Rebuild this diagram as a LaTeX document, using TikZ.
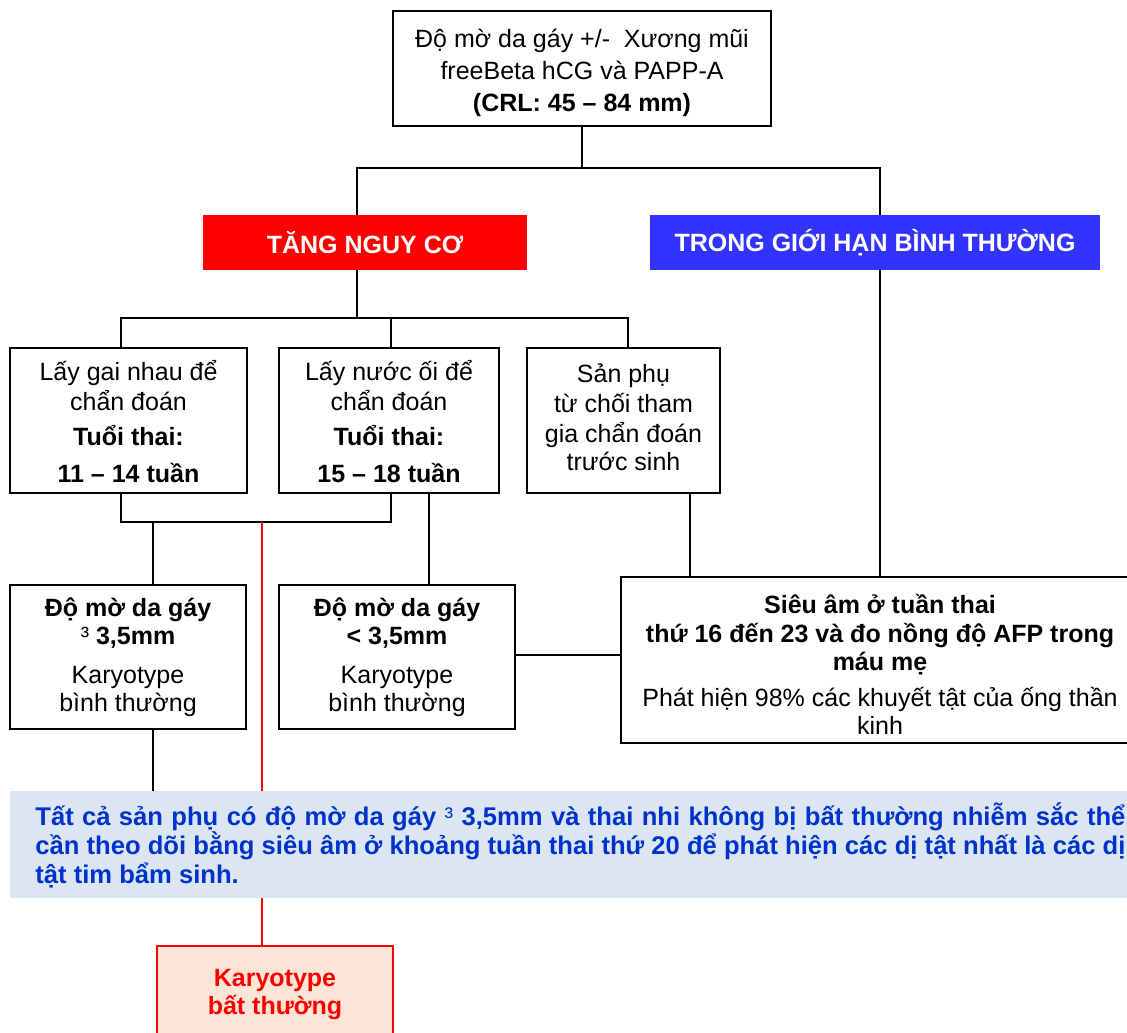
\documentclass[tikz,border=0pt]{standalone}
\usepackage{fontspec}
\setmainfont{Liberation Sans}
\usepackage{tikz}
\usetikzlibrary{positioning}
\definecolor{ntred}{HTML}{FF0000}
\definecolor{ntblue}{HTML}{3333FF}
\definecolor{ntbar}{HTML}{DCE6F2}
\definecolor{ntbartext}{HTML}{0033CC}
\definecolor{ntpeach}{HTML}{FDE6D8}

\begin{document}
\begin{tikzpicture}[
  x=0.5pt,y=-0.5pt,
  font=\fontsize{12.5}{14}\selectfont,
  box/.style={draw=black,line width=1pt,fill=white,align=center,inner sep=2pt},
  head/.style={minimum height=27.5pt,inner sep=0pt,text=white,
               font=\fontsize{12.5}{14}\selectfont\bfseries},
  bar/.style={fill=ntbar,text=ntbartext,align=justify,text width=545pt,
              inner xsep=12.5pt,inner ysep=0pt,minimum height=53.5pt,
              font=\fontsize{12.8}{14.5}\selectfont\bfseries},
  alert/.style={draw=ntred,line width=1pt,fill=ntpeach,text=ntred,align=center,
                font=\fontsize{12.5}{14}\selectfont\bfseries},
  wire/.style={draw=black,line width=0.9pt},
  redwire/.style={draw=ntred,line width=0.8pt},
]
\useasboundingbox (0,0) rectangle (1127,1032);
\clip (0,0) rectangle (1127,1032);

\node[box,minimum width=189pt,minimum height=57.5pt] (top) at (582,68.5)
  {\rule{0pt}{13.5pt}Độ mờ da gáy +/-\ \ Xương mũi\\[2pt] freeBeta hCG và PAPP-A\\[2pt] \textbf{(CRL: 45 – 84 mm)}};

\node[head,fill=ntred,minimum width=162pt] (risk) at (365,242.5) {TĂNG NGUY CƠ};
\node[head,fill=ntblue,minimum width=225pt] (normal) at (875,242.5) {TRONG GIỚI HẠN BÌNH THƯỜNG};

\node[box,minimum width=118.5pt,minimum height=72.5pt] (cvs) at (128.5,420.5)
  {\rule{0pt}{11pt}Lấy gai nhau để\\[1pt] chẩn đoán\\[3.5pt] \textbf{Tuổi thai:}\\[4.5pt] \textbf{11 – 14 tuần}};
\node[box,minimum width=110pt,minimum height=72.5pt] (amnio) at (389,420.5)
  {\rule{0pt}{11pt}Lấy nước ối để\\[1pt] chẩn đoán\\[3.5pt] \textbf{Tuổi thai:}\\[4.5pt] \textbf{15 – 18 tuần}};
\node[box,minimum width=96.5pt,minimum height=72.5pt] (refuse) at (623.5,420.5)
  {Sản phụ\\[1pt] từ chối tham\\[1pt] gia chẩn đoán\\[0pt] trước sinh\rule[-3.5pt]{0pt}{1pt}};

\node[box,minimum width=118pt,minimum height=72pt] (ntHigh) at (128,657)
  {\textbf{Độ mờ da gáy}\\ \textbf{{\mdseries ³} 3,5mm}\\[5.5pt] Karyotype\\ bình thường};
\node[box,minimum width=118pt,minimum height=72pt] (ntLow) at (397,657)
  {\textbf{Độ mờ da gáy}\\ \textbf{< 3,5mm}\\[5.5pt] Karyotype\\ bình thường};
\node[box,minimum width=259pt,minimum height=83pt] (afp) at (880,660)
  {\rule{0pt}{13.5pt}\textbf{Siêu âm ở tuần thai}\\[0.5pt] \textbf{thứ 16 đến 23 và đo nồng độ AFP trong}\\ \textbf{máu mẹ}\\[4pt]
   Phát hiện 98\% các khuyết tật của ống thần\\ kinh};

\node[alert,anchor=north west,minimum width=118pt,minimum height=46pt] (abn) at (156,945)
  {\rule{0pt}{11pt}Karyotype\\ bất thường};

% junctions
\coordinate (jRisk) at (357,168);
\coordinate (jNorm) at (880,168);
\coordinate (jTest) at (357,318);
\coordinate (jA) at (121,318);
\coordinate (jB) at (391,318);
\coordinate (jC) at (628,318);
\coordinate (kA) at (121,522);
\coordinate (kB) at (391,522);
\coordinate (kD) at (153,522);
\coordinate (kR) at (262,522);
\coordinate (kE) at (429,522);
\coordinate (kF) at (690,522);

\draw[wire] (top.south) -- (top.south |- jRisk);
\draw[wire] (risk.north -| jRisk) -- (jRisk) -- (jNorm) -- (normal.north -| jNorm);
\draw[wire] (normal.south -| afp.north) -- (afp.north);
\draw[wire] (risk.south -| jTest) -- (jTest);
\draw[wire] (cvs.north -| jA) -- (jA) -- (jC) -- (refuse.north -| jC);
\draw[wire] (jB) -- (amnio.north -| jB);
\draw[wire] (cvs.south -| kA) -- (kA) -- (kB) -- (amnio.south -| kB);
\draw[wire] (kD) -- (ntHigh.north -| kD);
\draw[wire] (amnio.south -| kE) -- (ntLow.north -| kE);
\draw[wire] (refuse.south -| kF) -- (afp.north -| kF);
\draw[wire] (ntLow.east |- 0,655) -- (afp.west |- 0,655);
\draw[redwire] (kR) -- (abn.north -| kR);

\node[bar,anchor=north west] (note) at (10,791)
  {Tất cả sản phụ có độ mờ da gáy {\mdseries ³} 3,5mm và thai nhi không bị bất thường nhiễm sắc thể cần theo dõi bằng siêu âm ở khoảng tuần thai thứ 20 để phát hiện các dị tật nhất là các dị tật tim bẩm sinh.};

\draw[wire] (ntHigh.south -| kD) -- (note.north -| kD);

\end{tikzpicture}
\end{document}
